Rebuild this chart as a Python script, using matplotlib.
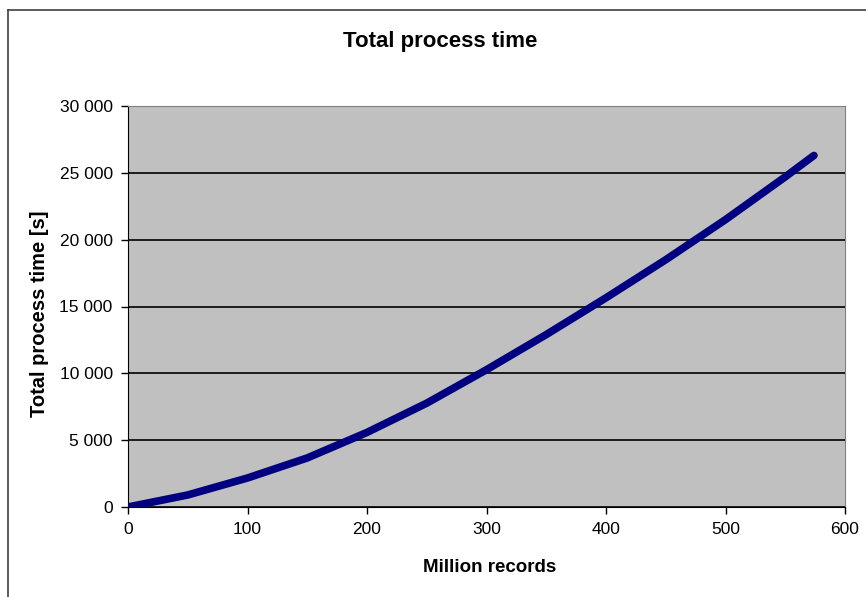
import matplotlib
matplotlib.use("Agg")
import matplotlib.pyplot as plt
from matplotlib.lines import Line2D
from matplotlib.ticker import FuncFormatter

# values
million_records = [0, 50, 100, 150, 200, 250, 300, 350, 400, 450, 500, 550, 574]
process_time_s = [0, 900, 2170, 3670, 5580, 7770, 10270, 12900, 15650, 18500, 21500, 24700, 26300]

x_ticks = [0, 100, 200, 300, 400, 500, 600]
y_ticks = [0, 5000, 10000, 15000, 20000, 25000, 30000]

plt.rcParams["font.family"] = ["Liberation Sans", "DejaVu Sans"]


def space_thousands(v, _pos):
    return f"{int(v):,}".replace(",", " ")


W, H = 866, 597
fig = plt.figure(figsize=(W / 100, H / 100), dpi=100)
ax = fig.add_axes([128 / W, 1 - 507 / H, (845 - 128) / W, (507 - 106) / H])
ax.set_facecolor("#c0c0c0")

ax.plot(million_records, process_time_s, color="#000080", lw=5.5,
        solid_capstyle="round", solid_joinstyle="round", zorder=3)

ax.set_xlim(0, 600)
ax.set_ylim(0, 30000)
ax.set_xticks(x_ticks)
ax.set_yticks(y_ticks)
ax.yaxis.set_major_formatter(FuncFormatter(space_thousands))
ax.yaxis.grid(True, color="black", lw=1.2)
ax.set_axisbelow(True)
ax.tick_params(direction="out", length=5, width=1, labelsize=12.5,
               colors="black", pad=6)

for side in ("top", "right"):
    ax.spines[side].set_color("#808080")
for side in ("left", "bottom"):
    ax.spines[side].set_color("black")

fig.text(440 / W, 1 - 42 / H, "Total process time", fontsize=16,
         fontweight="bold", ha="center", va="center")
fig.text(490 / W, 1 - 568 / H, "Million records", fontsize=13.5,
         fontweight="bold", ha="center", va="center")
fig.text(40 / W, 1 - 314 / H, "Total process time [s]", fontsize=14.5,
         fontweight="bold", ha="center", va="center", rotation=90)

# chart border (left and top edges visible)
bx, by = 8 / W, 1 - 10 / H
fig.add_artist(Line2D([bx, bx], [0, by], transform=fig.transFigure, color="#404040", lw=1.2))
fig.add_artist(Line2D([bx, 1], [by, by], transform=fig.transFigure, color="#404040", lw=1.2))

fig.savefig("out.png", dpi=100)
